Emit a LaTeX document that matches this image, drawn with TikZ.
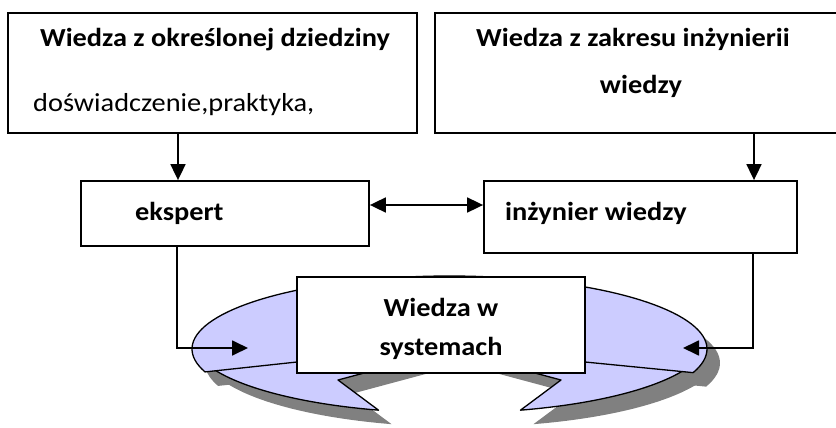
\documentclass[tikz,border=0pt]{standalone}
\usepackage{fontspec}
\setmainfont{Carlito}[FakeStretch=1.09]
\usetikzlibrary{arrows.meta,calc,positioning}
\definecolor{RibbonBlue}{HTML}{CCCCFF}
\definecolor{RibbonShade}{HTML}{808080}
\tikzset{
  box/.style={draw,line width=1.8pt,fill=white,inner sep=0pt},
  head/.style={inner sep=0pt,font=\fontsize{26}{46}\selectfont\bfseries},
  plain/.style={inner sep=0pt,font=\fontsize{26}{46}\selectfont},
  link/.style={line width=1.8pt,-{Triangle[length=16pt,width=15pt]}},
  both/.style={line width=1.8pt,{Triangle[length=16pt,width=15pt]}-{Triangle[length=16pt,width=15pt]}},
  band/.style={fill=RibbonBlue,draw,line width=1.3pt,line join=round},
  shade/.style={fill=RibbonShade},
}
% ribbon under the middle box: two tails, then the front band
\newcommand\ribbon[1]{%
  \path[#1] plot[domain=157.3:106,samples=40] ({449.5+257.5*cos(\x)},{340+73*sin(\x)})
    -- (338,380) -- (420,358) -- (297,358) -- cycle;
  \path[#1] plot[domain=22.7:74,samples=40] ({449.5+257.5*cos(\x)},{340+73*sin(\x)})
    -- (561,380) -- (479,358) -- (585,358) -- cycle;
  \path[#1] plot[domain=161.7:378.9,samples=90] ({449.5+257.5*cos(\x)},{349+73*sin(\x)})
    -- (585,362) -- (449.5,348) -- (297,362) -- cycle;
}

\begin{document}
\begin{tikzpicture}[x=1pt,y=-1pt]
  \useasboundingbox (0,0) rectangle (836,428);
  \begin{scope}[shift={(13,14)}]
    \ribbon{shade}
  \end{scope}
  \ribbon{band}

  % boxes
  \node[box,minimum width=409pt,minimum height=120pt] (dom) at (212.5,73) {};
  \node[box,minimum width=403pt,minimum height=120pt] (wzi) at (636.5,73) {};
  \node[box,minimum width=288pt,minimum height=65pt] (ekspert) at (225,213.5) {};
  \node[box,minimum width=313pt,minimum height=72pt] (inz) at (640.5,217) {};
  \node[box,minimum width=288pt,minimum height=96pt] (sys) at (441,325) {};

  % texts
  \node[head,anchor=base] (domT) at (215,47) {Wiedza z określonej dziedziny};
  \node[plain,anchor=base west] (domL) at (33,111) {doświadczenie,praktyka,};
  \node[head,anchor=base] (wziT) at (633,47) {Wiedza z zakresu inżynierii};
  \node[head,anchor=base] (wziL) at (641,93) {wiedzy};
  \node[head,anchor=base west] (ekspertT) at (135,220) {ekspert};
  \node[head,anchor=base west] (inzT) at (505,220) {inżynier wiedzy};
  \node[head,anchor=base] (sysT) at (441,316) {Wiedza w};
  \node[head,anchor=base] (sysL) at (441,355) {systemach};

  % connectors
  \coordinate (intoL) at (248,348);
  \coordinate (intoR) at (683,348);
  \draw[link] ([xshift=-34.5pt]dom.south) -- ([xshift=-34.5pt]dom.south |- ekspert.north);
  \draw[link] ([xshift=117.5pt]wzi.south) -- ([xshift=117.5pt]wzi.south |- inz.north);
  \draw[both] ([yshift=8.5pt]ekspert.east) -- ([yshift=12pt]inz.west);
  \draw[link] ([xshift=-48pt]ekspert.south) |- (intoL);
  \draw[link] ([xshift=112.5pt]inz.south) |- (intoR);
\end{tikzpicture}
\end{document}
